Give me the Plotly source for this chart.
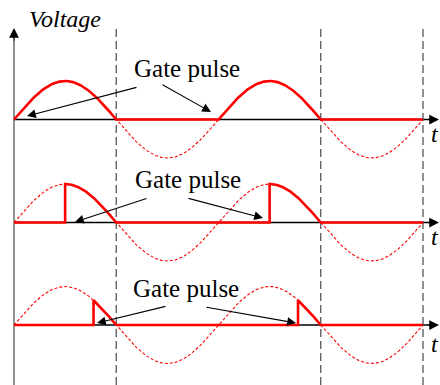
import numpy as np
import plotly.graph_objects as go

# ---- data ----
firing_angles = [0, 90, 140]          # degrees, one per panel
cycles = 2
amplitude = 1.0
period = 360
boundaries = [180, 540, 720]          # dashed vertical guide lines (deg)
label_main = "Voltage"
label_gate = "Gate pulse"
label_t = "t"

# ---- layout helpers (pixel geometry of the figure) ----
W, H = 440, 385
x0_px, x720_px = 14, 423
scale = (x720_px - x0_px) / 720.0
xmin = -x0_px / scale
xmax = (W - x0_px) / scale
base_px = [119.5, 222.5, 325.0]
amp_px = 38.5


def pxp(x):
    return x / W


def pyp(y):
    return 1 - y / H


fig = go.Figure()

theta_full = np.linspace(0, cycles * period, 721)
for i, a in enumerate(firing_angles):
    yname = "y" if i == 0 else f"y{i+1}"
    # dashed supply voltage
    fig.add_trace(go.Scatter(
        x=theta_full, y=amplitude * np.sin(np.radians(theta_full)),
        mode="lines", line=dict(color="red", width=1.1, dash="3px,2px"),
        yaxis=yname, showlegend=False, hoverinfo="skip"))
    # solid output voltage
    xs, ys = [], []
    for k in range(cycles):
        s = k * period
        xs += [s, s + a]
        ys += [0, 0]
        th = np.linspace(a, 180, 181)
        xs += list(s + th)
        ys += list(amplitude * np.sin(np.radians(th)))
        xs += [s + period]
        ys += [0]
    fig.add_trace(go.Scatter(
        x=xs, y=ys, mode="lines", line=dict(color="red", width=2.6),
        yaxis=yname, showlegend=False, hoverinfo="skip"))

layout = dict(
    width=W, height=H, margin=dict(l=0, r=0, t=0, b=0),
    paper_bgcolor="white", plot_bgcolor="white", showlegend=False,
    xaxis=dict(range=[xmin, xmax], visible=False, fixedrange=True),
)
for i, b in enumerate(base_px):
    key = "yaxis" if i == 0 else f"yaxis{i+1}"
    rng = [-(H - b) / amp_px, b / amp_px]
    d = dict(range=rng, visible=False, fixedrange=True)
    if i > 0:
        d["overlaying"] = "y"
    layout[key] = d
fig.update_layout(**layout)

shapes = []
# vertical axis (gray)
shapes.append(dict(type="line", xref="paper", yref="paper",
                   x0=pxp(x0_px), x1=pxp(x0_px), y0=pyp(40), y1=pyp(H),
                   line=dict(color="#777777", width=1.6), layer="below"))
# horizontal axes
for b in base_px:
    shapes.append(dict(type="line", xref="paper", yref="paper",
                       x0=pxp(x0_px), x1=pxp(432), y0=pyp(b), y1=pyp(b),
                       line=dict(color="black", width=1.3), layer="below"))
# dashed guide lines
for d in boundaries:
    shapes.append(dict(type="line", xref="x", yref="paper",
                       x0=d, x1=d, y0=pyp(29), y1=0,
                       line=dict(color="#555555", width=1.3, dash="8px,4px"),
                       layer="below"))
fig.update_layout(shapes=shapes)

ann = []
# vertical axis arrow head
ann.append(dict(xref="paper", yref="paper", x=pxp(x0_px), y=pyp(28), text="",
                showarrow=True, ax=0, ay=14, arrowhead=2, arrowsize=1.5,
                arrowwidth=1.3, arrowcolor="black", standoff=0))
# horizontal axis arrow heads and t labels
t_y = [134, 237, 344]
for b, ty in zip(base_px, t_y):
    ann.append(dict(xref="paper", yref="paper", x=pxp(441), y=pyp(b), text="",
                    showarrow=True, ax=-14, ay=0, arrowhead=2, arrowsize=1.5,
                    arrowwidth=1.3, arrowcolor="black", standoff=0))
    ann.append(dict(xref="paper", yref="paper", x=pxp(440), y=pyp(ty),
                    text=label_t, showarrow=False, xanchor="right",
                    yanchor="middle", borderpad=0,
                    font=dict(family="Liberation Serif", size=24,
                              color="black", style="italic")))
# Voltage label
ann.append(dict(xref="paper", yref="paper", x=pxp(27), y=pyp(19),
                text=label_main, showarrow=False, xanchor="left",
                yanchor="middle",
                font=dict(family="Liberation Serif", size=24, color="black",
                          style="italic")))
# Gate pulse labels
gate_text_pos = [(186.5, 69), (187.5, 179), (186, 288)]
for gx, gy in gate_text_pos:
    ann.append(dict(xref="paper", yref="paper", x=pxp(gx), y=pyp(gy),
                    text=label_gate, showarrow=False, xanchor="center",
                    yanchor="middle",
                    font=dict(family="Liberation Serif", size=25,
                              color="black")))
# Gate pulse arrows: (tail, tip) in pixels
gate_arrows = [
    ((138, 87), (27, 116)), ((161, 84), (211, 112)),
    ((148, 198), (75, 222)), ((187, 198), (263, 218)),
    ((167, 306), (97, 323)), ((205, 307), (296, 323)),
]
for (tx, ty), (hx, hy) in gate_arrows:
    ann.append(dict(xref="paper", yref="paper", x=pxp(hx), y=pyp(hy),
                    text="", showarrow=True, ax=tx - hx, ay=ty - hy,
                    arrowhead=2, arrowsize=1.6, arrowwidth=1.1,
                    arrowcolor="black", standoff=0))
fig.update_layout(annotations=ann)

fig.write_html("out.html",
               config={"displayModeBar": False, "staticPlot": True},
               post_script="document.body.style.margin='0px';")
